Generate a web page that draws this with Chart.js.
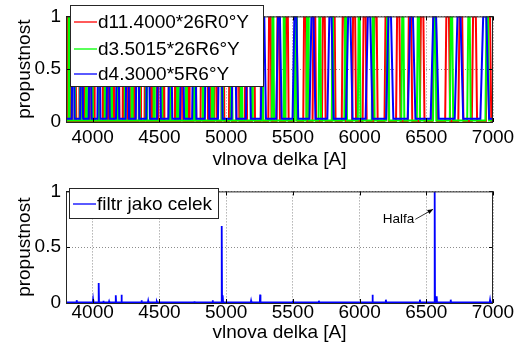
<!DOCTYPE html>
<html>
<head>
<meta charset="utf-8">
<script src="https://cdn.jsdelivr.net/npm/chart.js@4.4.0/dist/chart.umd.min.js"></script>
<style>
html, body { margin: 0; padding: 0; background: #fff; }
#wrap { position: relative; width: 526px; height: 349px; }
.pane { position: absolute; left: 0; width: 526px; }
</style>
</head>
<body>
<div id="wrap">
  <div class="pane" style="top:0;height:175px"><canvas id="upper" width="526" height="175"></canvas></div>
  <div class="pane" style="top:175px;height:174px"><canvas id="lower" width="526" height="174"></canvas></div>
</div>
<script>
// axes
var xMin = 3800, xMax = 7000;
var xTicks = [4000, 4500, 5000, 5500, 6000, 6500, 7000];
var yTicks = [0, 0.5, 1];
var xTitle = 'vlnova delka [A]';
var yTitle = 'propustnost';

// upper plot: transmission peaks of the three plates [A]
var seriesLabels = ['d11.4000*26R0°Y', 'd3.5015*26R6°Y', 'd4.3000*5R6°Y'];
var redPeaks = [3805, 3838, 3871, 3904, 3938, 3972, 4008, 4043, 4080, 4117, 4155, 4193, 4232, 4272, 4313,
    4354, 4397, 4440, 4484, 4529, 4574, 4621, 4669, 4717, 4767, 4818, 4869, 4922, 4976, 5032, 5088, 5146,
    5205, 5266, 5328, 5391, 5456, 5523, 5591, 5661, 5732, 5806, 5881, 5959, 6038, 6120, 6203, 6290, 6378,
    6469, 6563, 6660, 6759, 6861, 6967];
var greenPeaks = [3822, 3865, 3908, 3953, 3998, 4045, 4092, 4141, 4191, 4242, 4294, 4348, 4403, 4459, 4517,
    4577, 4638, 4701, 4765, 4831, 4899, 4969, 5041, 5115, 5192, 5270, 5351, 5435, 5521, 5610, 5702, 5797,
    5896, 5997, 6102, 6211, 6324, 6441, 6563, 6689, 6820, 6957];
var bluePeaks = [3854, 3917, 3981, 4047, 4116, 4187, 4260, 4336, 4415, 4497, 4582, 4670, 4761, 4857, 4956,
    5059, 5167, 5279, 5396, 5519, 5647, 5782, 5923, 6071, 6226, 6390, 6563, 6745, 6938];
var redFloor = 0.01, greenFloor = 0.015, blueFloor = 0.03;

// lower plot: whole filter
var totalLabel = 'filtr jako celek';
var spikeX = [3880, 4003, 4045, 4080, 4123, 4173, 4216, 4366, 4416, 4481, 4711, 4762, 4899, 4967, 4975,
    5187, 5255, 5500, 5695, 6097, 6197, 6452, 6563, 6578, 6683, 6978];
var spikeY = [0.025, 0.03, 0.18, 0.02, 0.015, 0.07, 0.075, 0.025, 0.02, 0.012, 0.012, 0.015, 0.025, 0.69, 0.07,
    0.02, 0.075, 0.02, 0.02, 0.075, 0.03, 0.03, 1.0, 0.06, 0.03, 0.025];
var totalFloor = 0.005;
var halfaText = 'Halfa';
var halfaLine = 6563;

var FONT = "'Liberation Sans', Arial, sans-serif";

// line points for a comb of peaks; shape given as fractions of local peak spacing
function peakTrace(centres, floor, halfBase, halfTop) {
    var pts = [{x: xMin, y: floor}];
    centres.forEach(function (c, i) {
        var prev = i > 0 ? centres[i - 1] : null;
        var next = i < centres.length - 1 ? centres[i + 1] : null;
        var s = prev === null ? next - c : (next === null ? c - prev : (next - prev) / 2);
        pts.push({x: c - halfBase * s, y: floor});
        pts.push({x: c - halfTop * s, y: 1});
        pts.push({x: c + halfTop * s, y: 1});
        pts.push({x: c + halfBase * s, y: floor});
    });
    pts.push({x: xMax, y: floor});
    return pts;
}

function spikeTrace(xs, ys, floor) {
    var pts = [{x: xMin, y: floor}];
    xs.forEach(function (x, i) {
        pts.push({x: x - 2.5, y: floor});
        pts.push({x: x, y: ys[i]});
        pts.push({x: x + 2.5, y: floor});
    });
    pts.push({x: xMax, y: floor});
    return pts;
}

// box, inward ticks and an in-plot legend like the original figure
var matlabAxes = {
    id: 'matlabAxes',
    afterDatasetsDraw: function (chart, args, opts) {
        var ctx = chart.ctx, a = chart.chartArea;
        var xs = chart.scales.x, ys = chart.scales.y;
        ctx.save();
        ctx.strokeStyle = '#000';
        ctx.lineWidth = 1;
        ctx.beginPath();
        xTicks.forEach(function (v) {
            var px = Math.round(xs.getPixelForValue(v)) + 0.5;
            ctx.moveTo(px, a.bottom); ctx.lineTo(px, a.bottom - 4);
            ctx.moveTo(px, a.top); ctx.lineTo(px, a.top + 4);
        });
        yTicks.forEach(function (v) {
            var py = Math.round(ys.getPixelForValue(v)) + 0.5;
            ctx.moveTo(a.left, py); ctx.lineTo(a.left + 4, py);
            ctx.moveTo(a.right, py); ctx.lineTo(a.right - 4, py);
        });
        ctx.stroke();
        ctx.strokeStyle = '#262626';
        ctx.strokeRect(a.left + 0.5, a.top + 0.5, a.right - a.left - 1, a.bottom - a.top);

        // legend
        var L = opts.legend;
        if (L) {
            ctx.fillStyle = '#fff';
            ctx.fillRect(L.x, L.y, L.w, L.h);
            ctx.strokeStyle = '#262626';
            ctx.lineWidth = 1;
            ctx.strokeRect(L.x + 0.5, L.y + 0.5, L.w, L.h);
            ctx.font = L.size + 'px ' + FONT;
            ctx.textBaseline = 'middle';
            ctx.textAlign = 'left';
            chart.data.datasets.forEach(function (ds, i) {
                var y = L.rows[i];
                ctx.strokeStyle = ds.borderColor;
                ctx.lineWidth = 1.3;
                ctx.beginPath();
                ctx.moveTo(L.x + 4, y); ctx.lineTo(L.x + 27, y);
                ctx.stroke();
                ctx.fillStyle = '#000';
                ctx.fillText(ds.label, L.x + 28, y + 1);
            });
        }

        // arrow annotation
        var N = opts.note;
        if (N) {
            var tx = xs.getPixelForValue(N.tip[0]), ty = ys.getPixelForValue(N.tip[1]);
            var sx = xs.getPixelForValue(N.tail[0]), sy = ys.getPixelForValue(N.tail[1]);
            ctx.strokeStyle = '#000';
            ctx.fillStyle = '#000';
            ctx.lineWidth = 0.8;
            ctx.beginPath();
            ctx.moveTo(sx, sy); ctx.lineTo(tx, ty);
            ctx.stroke();
            var ang = Math.atan2(ty - sy, tx - sx);
            ctx.beginPath();
            ctx.moveTo(tx, ty);
            ctx.lineTo(tx - 6 * Math.cos(ang - 0.4), ty - 6 * Math.sin(ang - 0.4));
            ctx.lineTo(tx - 6 * Math.cos(ang + 0.4), ty - 6 * Math.sin(ang + 0.4));
            ctx.closePath();
            ctx.fill();
            ctx.font = N.size + 'px ' + FONT;
            ctx.textAlign = 'right';
            ctx.textBaseline = 'middle';
            ctx.fillText(N.text, sx - 1, sy);
        }
        ctx.restore();
    }
};

function scalesFor(axisHeight, xPad, xTitlePad) {
    var grid = {
        color: 'rgba(0,0,0,0.45)',
        lineWidth: 1,
        drawTicks: false
    };
    return {
        x: {
            type: 'linear',
            min: xMin,
            max: xMax,
            afterBuildTicks: function (s) { s.ticks = xTicks.map(function (v) { return {value: v}; }); },
            afterFit: function (s) { s.height = axisHeight; },
            ticks: {
                padding: xPad,
                color: '#000',
                font: {family: FONT, size: 19},
                maxRotation: 0,
                autoSkip: false,
                callback: function (v) { return String(v); }
            },
            grid: grid,
            border: {display: false, dash: [1, 2]},
            title: {display: true, text: xTitle, color: '#000', font: {family: FONT, size: 19},
                padding: {top: 0, bottom: xTitlePad}}
        },
        y: {
            min: 0,
            max: 1,
            afterBuildTicks: function (s) { s.ticks = yTicks.map(function (v) { return {value: v}; }); },
            afterFit: function (s) { s.width = 66; },
            ticks: {
                padding: 5,
                color: '#000',
                font: {family: FONT, size: 19},
                callback: function (v) { return String(v); }
            },
            grid: grid,
            border: {display: false, dash: [1, 2]},
            title: {display: true, text: yTitle, color: '#000', font: {family: FONT, size: 19},
                padding: {top: 13, bottom: 0}}
        }
    };
}

var common = {
    responsive: false,
    animation: false,
    events: [],
    elements: {point: {radius: 0}, line: {tension: 0}}
};

new Chart(document.getElementById('upper'), {
    type: 'line',
    data: {
        datasets: [
            {label: seriesLabels[0], data: peakTrace(redPeaks, redFloor, 0.19, 0.1),
                borderColor: '#ff0000', borderWidth: 2, order: 2},
            {label: seriesLabels[1], data: peakTrace(greenPeaks, greenFloor, 0.1, 0.04),
                borderColor: '#00ff00', borderWidth: 2, order: 1},
            {label: seriesLabels[2], data: peakTrace(bluePeaks, blueFloor, 0.17, 0.06),
                borderColor: '#0000ff', borderWidth: 2, order: 0}
        ]
    },
    options: Object.assign({}, common, {
        layout: {padding: {left: 0, right: 33, top: 15, bottom: 0}},
        scales: scalesFor(53, 4, 4),
        plugins: {
            legend: {display: false}, tooltip: {enabled: false},
            matlabAxes: {legend: {x: 70, y: 5, w: 193, h: 81, size: 19, rows: [22, 49, 74]}}
        }
    }),
    plugins: [matlabAxes]
});

new Chart(document.getElementById('lower'), {
    type: 'line',
    data: {
        datasets: [
            {label: totalLabel, data: spikeTrace(spikeX, spikeY, totalFloor),
                borderColor: '#0000ff', borderWidth: 1.8}
        ]
    },
    options: Object.assign({}, common, {
        layout: {padding: {left: 0, right: 33, top: 13, bottom: 0}},
        scales: scalesFor(46, -2, 5),
        plugins: {
            legend: {display: false}, tooltip: {enabled: false},
            matlabAxes: {
                legend: {x: 69, y: 13, w: 149, h: 30, size: 19, rows: [29]},
                note: {text: halfaText, tip: [halfaLine - 12, 0.84], tail: [6418, 0.75], size: 13.5}
            }
        }
    }),
    plugins: [matlabAxes]
});
</script>
</body>
</html>
